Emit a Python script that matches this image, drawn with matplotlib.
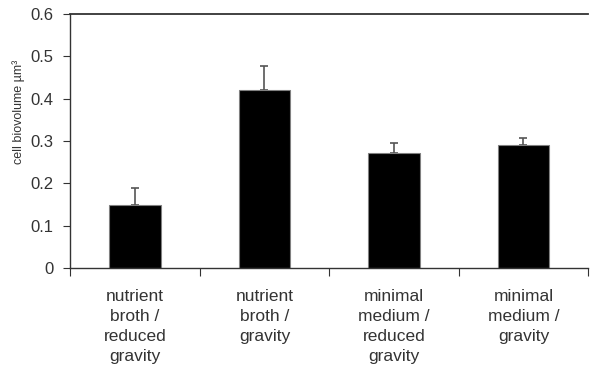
import numpy as np
from matplotlib import pyplot as plt

categories = ["nutrient\nbroth /\nreduced\ngravity", "nutrient\nbroth /\ngravity",
              "minimal\nmedium /\nreduced\ngravity", "minimal\nmedium /\ngravity"]
biovolume = [0.148, 0.42, 0.272, 0.291]
error_up = [0.041, 0.058, 0.024, 0.015]
y_ticks = [0, 0.1, 0.2, 0.3, 0.4, 0.5, 0.6]
y_labels = ["0", "0.1", "0.2", "0.3", "0.4", "0.5", "0.6"]

plt.rcParams['font.family'] = ['Liberation Sans', 'DejaVu Sans']

fig = plt.figure(figsize=(5.9, 3.7), dpi=100)
ax = fig.add_axes([0.119, 0.276, 0.878, 0.686])

x = np.arange(len(categories))
ax.bar(x, biovolume, width=0.4, color='black', edgecolor='#808080', linewidth=0.8, zorder=2)
ax.errorbar(x, biovolume, yerr=[np.zeros(len(x)), error_up], fmt='none',
            ecolor='#555555', elinewidth=1.2, capsize=2.8, capthick=1.2, zorder=1)

ax.set_xlim(-0.5, len(categories) - 0.5)
ax.set_ylim(0, 0.6)
ax.set_yticks(y_ticks)
ax.set_yticklabels(y_labels, fontsize=12, color='#333333')
ax.set_xticks(np.arange(len(categories) + 1) - 0.5)
ax.set_xticklabels([])
ax.set_xticks(x, minor=True)
ax.set_xticklabels(categories, minor=True, fontsize=12.5, color='#333333', linespacing=1.42)
ax.tick_params(axis='x', which='major', direction='out', length=6, width=0.8, color='#333333')
ax.tick_params(axis='x', which='minor', length=0, pad=15)
ax.tick_params(axis='y', direction='out', length=5, width=0.8, color='#333333', pad=7)

ax.spines['right'].set_visible(False)
for side in ['left', 'bottom', 'top']:
    ax.spines[side].set_color('#333333')
    ax.spines[side].set_linewidth(1.0)
ax.spines['top'].set_linewidth(1.3)

ax.set_ylabel("cell biovolume µm³", fontsize=9, color='#333333')
ax.yaxis.set_label_coords(-0.088, 0.614)

fig.savefig("out.png", dpi=100)
